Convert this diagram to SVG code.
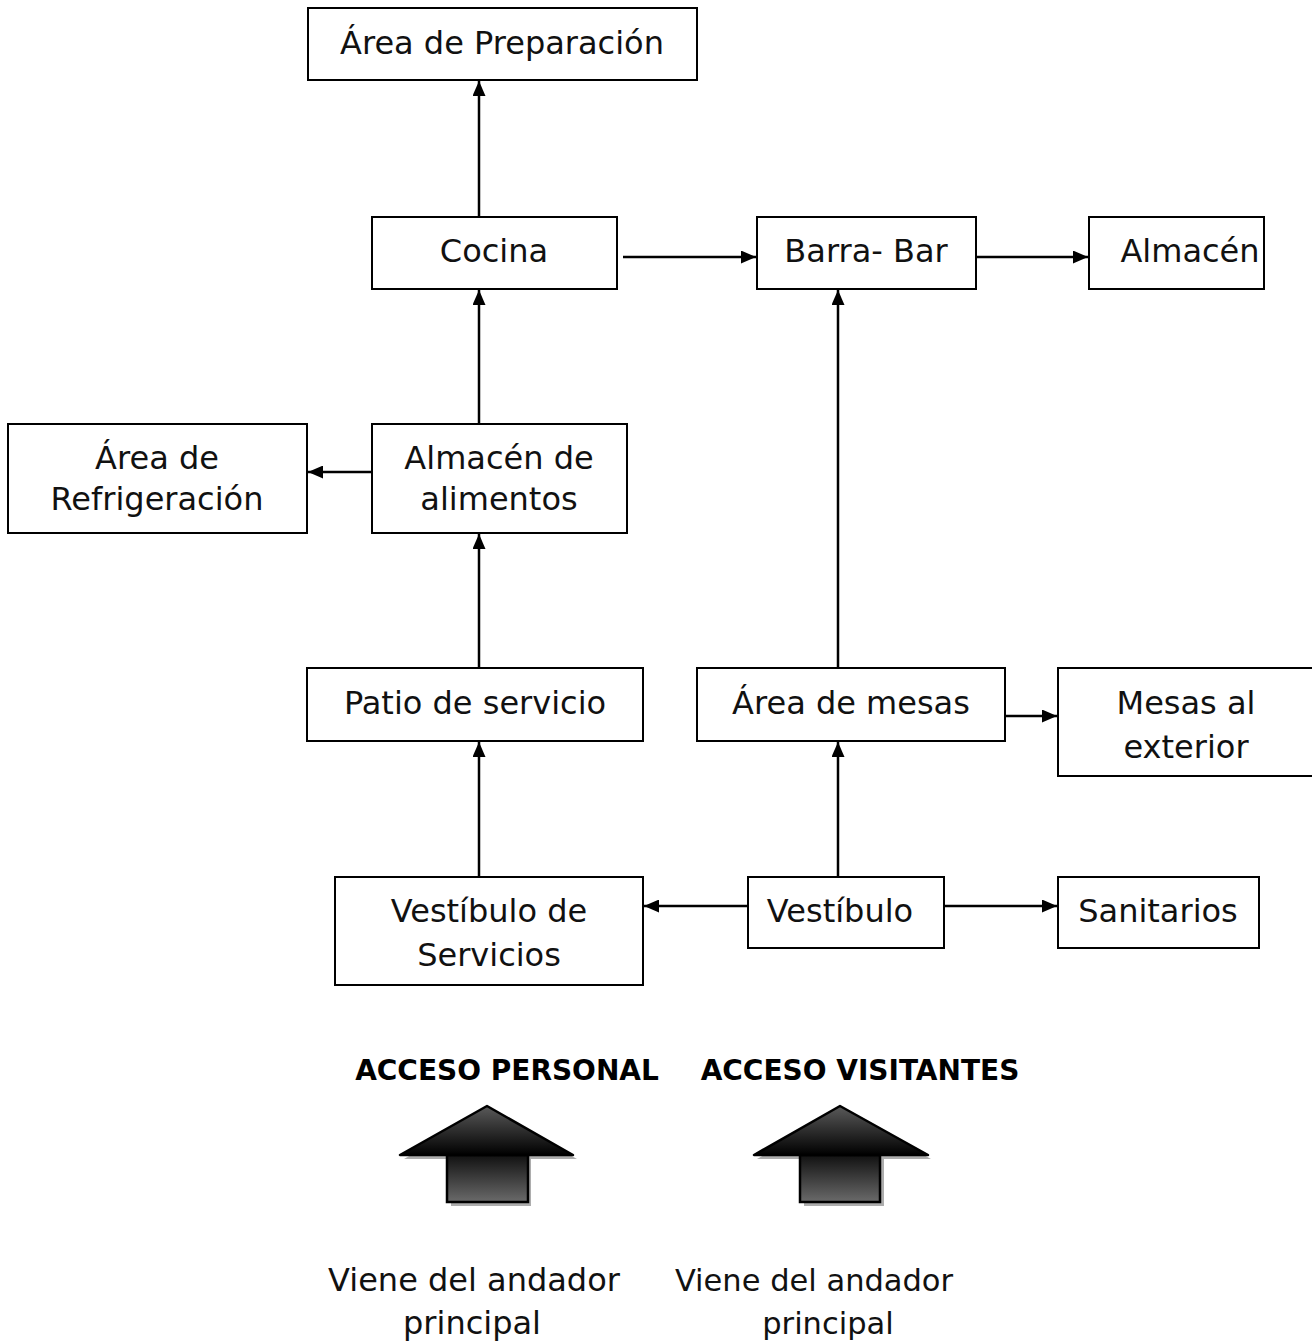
<svg xmlns="http://www.w3.org/2000/svg" width="1312" height="1342" viewBox="0 0 1312 1342">
<style>
.box{fill:#fff;stroke:#000;stroke-width:2}
.t{font-family:"DejaVu Sans","Liberation Sans",sans-serif;font-size:32px;fill:#111;text-anchor:middle}
.s{font-size:30.5px}
.b{font-family:"DejaVu Sans","Liberation Sans",sans-serif;font-size:28px;font-weight:bold;fill:#000;text-anchor:middle}
.c{stroke:#000;stroke-width:2.5;fill:none;marker-end:url(#ah)}
</style>
<defs>
<marker id="ah" viewBox="0 0 15 13" refX="15" refY="6.5" markerWidth="15" markerHeight="13" markerUnits="userSpaceOnUse" orient="auto">
<path d="M0,0 L15,6.5 L0,13 z" fill="#000"/>
</marker>
<linearGradient id="g1" x1="0" y1="0" x2="0" y2="1">
<stop offset="0" stop-color="#5a5a5a"/>
<stop offset="1" stop-color="#000"/>
</linearGradient>
<linearGradient id="g2" x1="0" y1="0" x2="0" y2="1">
<stop offset="0" stop-color="#111"/>
<stop offset="1" stop-color="#6a6a6a"/>
</linearGradient>
</defs>
<g id="connectors">
<line class="c" x1="479" y1="217" x2="479" y2="81"/>
<line class="c" x1="623" y1="257" x2="756" y2="257"/>
<line class="c" x1="976" y1="257" x2="1088" y2="257"/>
<line class="c" x1="479" y1="424" x2="479" y2="290"/>
<line class="c" x1="372" y1="472" x2="308" y2="472"/>
<line class="c" x1="479" y1="668" x2="479" y2="534"/>
<line class="c" x1="479" y1="877" x2="479" y2="742"/>
<line class="c" x1="748" y1="906" x2="644" y2="906"/>
<line class="c" x1="944" y1="906" x2="1057" y2="906"/>
<line class="c" x1="838" y1="877" x2="838" y2="742"/>
<line class="c" x1="838" y1="668" x2="838" y2="290"/>
<line class="c" x1="1005" y1="716" x2="1057" y2="716"/>
</g>
<g id="n-preparacion"><rect class="box" x="308" y="8" width="389" height="72"/><text class="t" x="502" y="54">Área de Preparación</text></g>
<g id="n-cocina"><rect class="box" x="372" y="217" width="245" height="72"/><text class="t" x="494" y="262">Cocina</text></g>
<g id="n-barra"><rect class="box" x="757" y="217" width="219" height="72"/><text class="t" x="866" y="262">Barra- Bar</text></g>
<g id="n-almacen"><rect class="box" x="1089" y="217" width="175" height="72"/><text class="t" x="1190" y="262">Almacén</text></g>
<g id="n-refrigeracion"><rect class="box" x="8" y="424" width="299" height="109"/><text class="t" x="157" y="469">Área de</text><text class="t" x="157" y="510">Refrigeración</text></g>
<g id="n-alimentos"><rect class="box" x="372" y="424" width="255" height="109"/><text class="t" x="499" y="469">Almacén de</text><text class="t" x="499" y="510">alimentos</text></g>
<g id="n-patio"><rect class="box" x="307" y="668" width="336" height="73"/><text class="t" x="475" y="714">Patio de servicio</text></g>
<g id="n-mesas"><rect class="box" x="697" y="668" width="308" height="73"/><text class="t" x="851" y="714">Área de mesas</text></g>
<g id="n-exterior"><rect class="box" x="1058" y="668" width="260" height="108"/><text class="t" x="1186" y="714">Mesas al</text><text class="t" x="1186" y="758">exterior</text></g>
<g id="n-vservicios"><rect class="box" x="335" y="877" width="308" height="108"/><text class="t" x="489" y="922">Vestíbulo de</text><text class="t" x="489" y="966">Servicios</text></g>
<g id="n-vestibulo"><rect class="box" x="748" y="877" width="196" height="71"/><text class="t" x="840" y="922">Vestíbulo</text></g>
<g id="n-sanitarios"><rect class="box" x="1058" y="877" width="201" height="71"/><text class="t" x="1158" y="922">Sanitarios</text></g>
<g id="acceso-personal">
<text class="b" x="507" y="1080">ACCESO PERSONAL</text>
<path d="M490,1109 L404,1159 L451,1159 L451,1206 L531,1206 L531,1159 L577,1159 Z" fill="#999" opacity="0.8"/>
<rect x="447" y="1155" width="81" height="47" fill="url(#g2)" stroke="#000" stroke-width="2.5"/>
<path d="M487,1106 L400,1155 L573,1155 Z" fill="url(#g1)" stroke="#000" stroke-width="2.5" stroke-linejoin="round"/>
</g>
<g id="acceso-visitantes">
<text class="b" x="860" y="1080">ACCESO VISITANTES</text>
<path d="M843,1109 L757,1159 L804,1159 L804,1206 L884,1206 L884,1159 L931,1159 Z" fill="#999" opacity="0.8"/>
<rect x="800" y="1155" width="80" height="47" fill="url(#g2)" stroke="#000" stroke-width="2.5"/>
<path d="M840,1106 L754,1155 L928,1155 Z" fill="url(#g1)" stroke="#000" stroke-width="2.5" stroke-linejoin="round"/>
</g>
<g id="label-personal"><text class="t" x="474" y="1291">Viene del andador</text><text class="t" x="472" y="1334">principal</text></g>
<g id="label-visitantes"><text class="t s" x="814" y="1291">Viene del andador</text><text class="t s" x="828" y="1334">principal</text></g>
</svg>
